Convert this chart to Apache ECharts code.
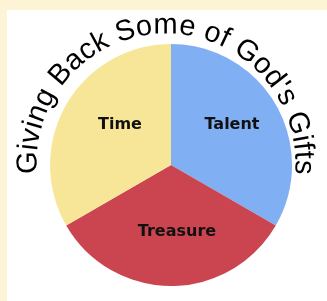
<!DOCTYPE html>
<html><head><meta charset="utf-8">
<script src="https://cdn.jsdelivr.net/npm/echarts@6/dist/echarts.min.js"></script>
<style>html,body{margin:0;padding:0;background:#fdf4d6;}#c{width:327px;height:301px;}</style>
</head><body><div id="c"></div>
<script>
var categories = ['Talent', 'Treasure', 'Time'];
var values = [1, 1, 1];
var sliceColors = ['#80aff4', '#cb4550', '#f7e698'];
var titleText = "Giving Back Some of God's Gifts";

var chart = echarts.init(document.getElementById('c'), null, {renderer: 'canvas'});

// curved title: one text element per character along an arc
var tcx = 166, tcy = 163, tr = 123, tfont = '29px "Liberation Sans", Arial, sans-serif';
var spanDeg = 190;
var cnv = document.createElement('canvas').getContext('2d');
cnv.font = tfont;
var chars = titleText.split('');
var widths = chars.map(function (ch) { return cnv.measureText(ch).width; });
var total = widths.reduce(function (a, b) { return a + b; }, 0);
var k = (spanDeg * Math.PI / 180) / total;
var ang = Math.PI / 2 + (spanDeg * Math.PI / 180) / 2;
var graphics = [{
  type: 'rect', shape: {x: 7, y: 10, width: 320, height: 291},
  style: {fill: '#ffffff'}, z: -10, silent: true
}];
chars.forEach(function (ch, i) {
  var a = ang - widths[i] * k / 2;
  graphics.push({
    type: 'text',
    x: tcx + tr * Math.cos(a),
    y: tcy - tr * Math.sin(a),
    rotation: a - Math.PI / 2,
    style: {text: ch, font: tfont, fill: '#000', align: 'center', verticalAlign: 'bottom'},
    z: 10
  });
  ang -= widths[i] * k;
});

var labelOffsets = [[6, -8], [6, 3], [4, -8]];

chart.setOption({
  backgroundColor: '#fdf4d6',
  animation: false,
  graphic: graphics,
  series: [{
    type: 'pie',
    center: [171, 165],
    radius: [0, 121],
    startAngle: 90,
    clockwise: true,
    silent: true,
    itemStyle: {borderWidth: 0},
    label: {
      show: true, position: 'inside', color: '#111',
      fontFamily: '"DejaVu Sans", Verdana, sans-serif', fontWeight: 'bold', fontSize: 16
    },
    labelLine: {show: false},
    data: categories.map(function (c, i) {
      return {name: c, value: values[i], itemStyle: {color: sliceColors[i]}, label: {offset: labelOffsets[i]}};
    })
  }]
});
</script></body></html>
